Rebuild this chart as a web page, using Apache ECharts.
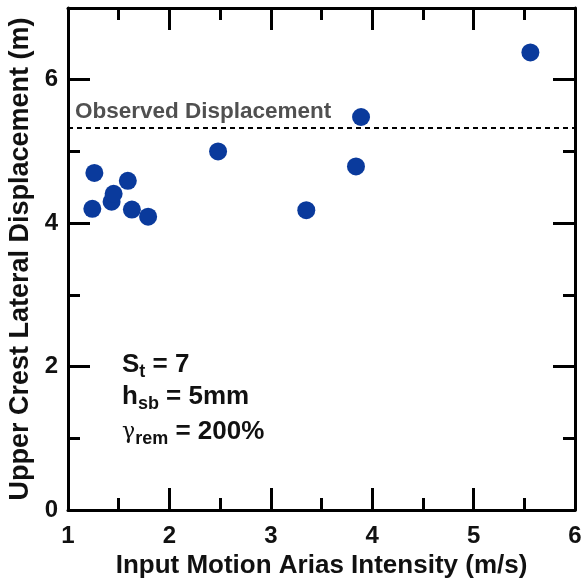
<!DOCTYPE html>
<html><head><meta charset="utf-8">
<script src="https://cdn.jsdelivr.net/npm/echarts@6/dist/echarts.min.js"></script>
<style>html,body{margin:0;padding:0;background:#fff}#c{width:582px;height:584px}</style>
</head><body><div id="c"></div>
<script>
const ariasIntensity = [1.24, 1.26, 1.43, 1.45, 1.59, 1.63, 1.79, 2.48, 3.35, 3.84, 3.89, 5.56];
const crestDisplacement = [4.20, 4.70, 4.30, 4.41, 4.59, 4.19, 4.09, 5.00, 4.18, 4.79, 5.48, 6.38];
const observedDisplacement = 5.33;
const xTicks = [1, 2, 3, 4, 5, 6];
const yTicks = [0, 2, 4, 6];

const FONT = '"Liberation Sans", Arial, sans-serif';
const chart = echarts.init(document.getElementById('c'), null, {renderer: 'canvas'});
const axisCommon = {
  type: 'value',
  axisLine: {show: true, onZero: false, lineStyle: {color: '#000', width: 3}},
  axisTick: {show: true, inside: true, length: 22, lineStyle: {color: '#000', width: 3}},
  minorTick: {show: true, splitNumber: 2, length: 12, lineStyle: {color: '#000', width: 3}},
  splitLine: {show: false}
};
const sub = {fontFamily: FONT, fontWeight: 'bold', fontSize: 18, fill: '#111', padding: [14, 0, 0, 0]};
const main = {fontFamily: FONT, fontWeight: 'bold', fontSize: 26, fill: '#111'};
chart.setOption({
  animation: false,
  grid: {left: 68, right: 7, top: 8, bottom: 74, outerBoundsMode: 'none', containLabel: false},
  xAxis: [
    Object.assign({}, axisCommon, {
      min: xTicks[0], max: xTicks[xTicks.length - 1], interval: 1, position: 'bottom',
      name: 'Input Motion Arias Intensity (m/s)', nameLocation: 'middle', nameGap: 43,
      nameMoveOverlap: false,
      nameTextStyle: {fontFamily: FONT, fontWeight: 'bold', fontSize: 26, color: '#111'},
      axisLabel: {fontFamily: FONT, fontWeight: 'bold', fontSize: 24, color: '#111', margin: 14}
    }),
    Object.assign({}, axisCommon, {
      min: xTicks[0], max: xTicks[xTicks.length - 1], interval: 1, position: 'top',
      axisLabel: {show: false}
    })
  ],
  yAxis: [
    Object.assign({}, axisCommon, {
      min: yTicks[0], max: 7, interval: 2, position: 'left',
      name: 'Upper Crest Lateral Displacement (m)', nameLocation: 'middle', nameGap: 34,
      nameMoveOverlap: false,
      nameTextStyle: {fontFamily: FONT, fontWeight: 'bold', fontSize: 27, color: '#111'},
      axisLabel: {fontFamily: FONT, fontWeight: 'bold', fontSize: 24, color: '#111', margin: 10,
        formatter: v => (yTicks.indexOf(v) >= 0 ? String(v) : '')}
    }),
    Object.assign({}, axisCommon, {
      min: yTicks[0], max: 7, interval: 2, position: 'right',
      axisLabel: {show: false}
    })
  ],
  series: [{
    type: 'scatter',
    symbolSize: 18,
    itemStyle: {color: '#0a3a9c', opacity: 1},
    data: ariasIntensity.map((x, i) => [x, crestDisplacement[i]]),
    markLine: {
      silent: true, symbol: 'none',
      lineStyle: {color: '#000', type: [5, 4], width: 2},
      label: {show: true, position: 'insideStartTop', formatter: 'Observed Displacement',
        fontFamily: FONT, fontWeight: 'bold', fontSize: 22.5, color: '#505050', distance: [7, 4]},
      data: [{yAxis: observedDisplacement}]
    }
  }],
  graphic: [
    {type: 'text', left: 122, top: 352, style: {
      text: '{b|S}{s|t}{b| = 7}', rich: {b: main, s: sub}}},
    {type: 'text', left: 122, top: 384, style: {
      text: '{b|h}{s|sb}{b| = 5mm}', rich: {b: main, s: sub}}},
    {type: 'text', left: 122, top: 419, style: {
      text: '{g|γ}{s|rem}{b| = 200%}', rich: {
        g: {fontFamily: '"DejaVu Serif", serif', fontSize: 22, fill: '#111'}, b: main, s: sub}}}
  ]
});
</script></body></html>
